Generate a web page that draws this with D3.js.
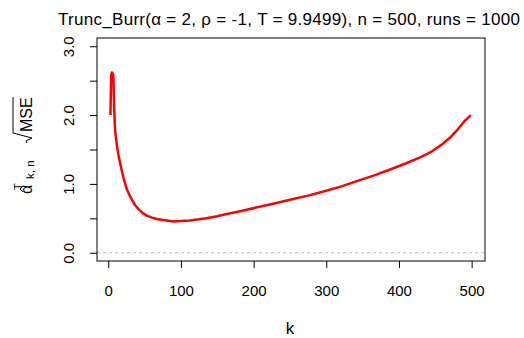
<!DOCTYPE html>
<html>
<head>
<meta charset="utf-8">
<script src="https://cdn.jsdelivr.net/npm/d3@7"></script>
<style>
  body { margin: 0; background: #fff; }
  svg { display: block; font-family: 'Liberation Sans', Arial, sans-serif; }
</style>
</head>
<body>
<svg></svg>
<script>
// k values and sqrt(MSE)
const kValues = [3, 4, 5, 6, 7, 8, 9, 10, 12, 14, 16, 18, 21, 25, 29, 33, 37, 42, 47, 53,
  60, 67, 75, 83, 90, 100, 112, 125, 135, 150, 160, 180, 205, 230, 250, 275, 296, 320,
  342, 365, 388, 410, 430, 445, 460, 470, 480, 490, 495, 499];
const rmseValues = [2.00, 2.58, 2.62, 2.60, 2.58, 2.15, 1.85, 1.72, 1.55, 1.42, 1.32, 1.22,
  1.09, 0.94, 0.84, 0.76, 0.69, 0.63, 0.58, 0.54, 0.51, 0.49, 0.475, 0.465, 0.455, 0.46,
  0.47, 0.485, 0.50, 0.53, 0.555, 0.60, 0.66, 0.72, 0.77, 0.83, 0.89, 0.96, 1.04, 1.12,
  1.21, 1.30, 1.39, 1.47, 1.58, 1.67, 1.78, 1.91, 1.96, 2.00];

const xTicks = [0, 100, 200, 300, 400, 500];
const yTicks = [0, 0.5, 1, 1.5, 2, 2.5, 3];
const yLabels = [0, 1, 2, 3];

document.addEventListener('DOMContentLoaded', function () {
  drawChart();
});

function drawChart() {
  const width = 524;
  const height = 338;
  const svg = d3.select('svg').attr('width', width).attr('height', height);

  const left = 97, right = 485, top = 38, bottom = 261;

  const x = d3.scaleLinear().domain([-15.5, 518.4]).range([left, right]);
  const y = d3.scaleLinear().domain([-0.12, 3.12]).range([bottom, top]);

  // dashed reference line at 0
  svg.append('line')
    .attr('x1', left).attr('x2', right)
    .attr('y1', y(0)).attr('y2', y(0))
    .attr('stroke', '#bebebe')
    .attr('stroke-width', 1)
    .attr('stroke-dasharray', '3,3');

  // curve
  const pts = kValues.map((k, i) => [k, rmseValues[i]]);
  const line = d3.line().x(d => x(d[0])).y(d => y(d[1]));
  svg.append('path')
    .datum(pts)
    .attr('d', line)
    .attr('fill', 'none')
    .attr('stroke', '#ff0000')
    .attr('stroke-width', 2.5)
    .attr('stroke-linejoin', 'round');

  // box
  svg.append('rect')
    .attr('x', left).attr('y', top)
    .attr('width', right - left).attr('height', bottom - top)
    .attr('fill', 'none')
    .attr('stroke', '#000')
    .attr('stroke-width', 1);

  // x axis
  const xAxis = d3.axisBottom(x)
    .tickValues(xTicks)
    .tickSize(7)
    .tickPadding(17)
    .tickFormat(d3.format('d'));
  const gx = svg.append('g')
    .attr('transform', `translate(0,${bottom})`)
    .call(xAxis);
  gx.select('.domain').remove();
  gx.selectAll('text').attr('font-size', 15).attr('fill', '#000').attr('font-family', null);
  gx.selectAll('line').attr('stroke', '#000');

  // y axis, labels only on whole numbers
  const yAxis = d3.axisLeft(y)
    .tickValues(yTicks)
    .tickSize(7)
    .tickFormat(d => yLabels.includes(d) ? d3.format('.1f')(d) : '');
  const gy = svg.append('g')
    .attr('transform', `translate(${left},0)`)
    .call(yAxis);
  gy.select('.domain').remove();
  gy.selectAll('line').attr('stroke', '#000');
  gy.selectAll('text')
    .attr('font-size', 15)
    .attr('fill', '#000')
    .attr('font-family', null)
    .attr('x', null).attr('dy', null)
    .attr('text-anchor', 'middle')
    .attr('transform', 'translate(-23.5,0) rotate(-90)');

  // title (plotmath spreads the "=" signs, so stretch the spacing)
  svg.append('text')
    .attr('x', 58)
    .attr('y', 25)
    .attr('font-size', 17)
    .attr('textLength', 462)
    .attr('lengthAdjust', 'spacing')
    .text('Trunc_Burr(\u03B1 = 2, \u03C1 = -1, T = 9.9499), n = 500, runs = 1000');

  // x label
  svg.append('text')
    .attr('x', 290)
    .attr('y', 334)
    .attr('text-anchor', 'middle')
    .attr('font-size', 17)
    .text('k');

  // y label (rotated): alpha hat ^T _(k,n)  sqrt(MSE)
  const yl = svg.append('g').attr('transform', 'translate(32,191) rotate(-90)');
  yl.append('text').attr('x', -3).attr('y', 0).attr('font-size', 16).text('\u03B1');
  yl.append('path')
    .attr('d', 'M-1,-9 L2,-12 L5,-9')
    .attr('fill', 'none').attr('stroke', '#000').attr('stroke-width', 1);
  yl.append('text').attr('x', 1).attr('y', -10).attr('font-size', 11).text('T');
  yl.append('text').attr('x', 12).attr('y', 2).attr('font-size', 11.5).text('k, n');
  yl.append('path')
    .attr('d', 'M48,-5 L50,-6 L53,0 L58,-19 L94,-19')
    .attr('fill', 'none').attr('stroke', '#000').attr('stroke-width', 1);
  yl.append('text').attr('x', 59).attr('y', 0).attr('font-size', 16).text('MSE');
}
</script>
</body>
</html>
